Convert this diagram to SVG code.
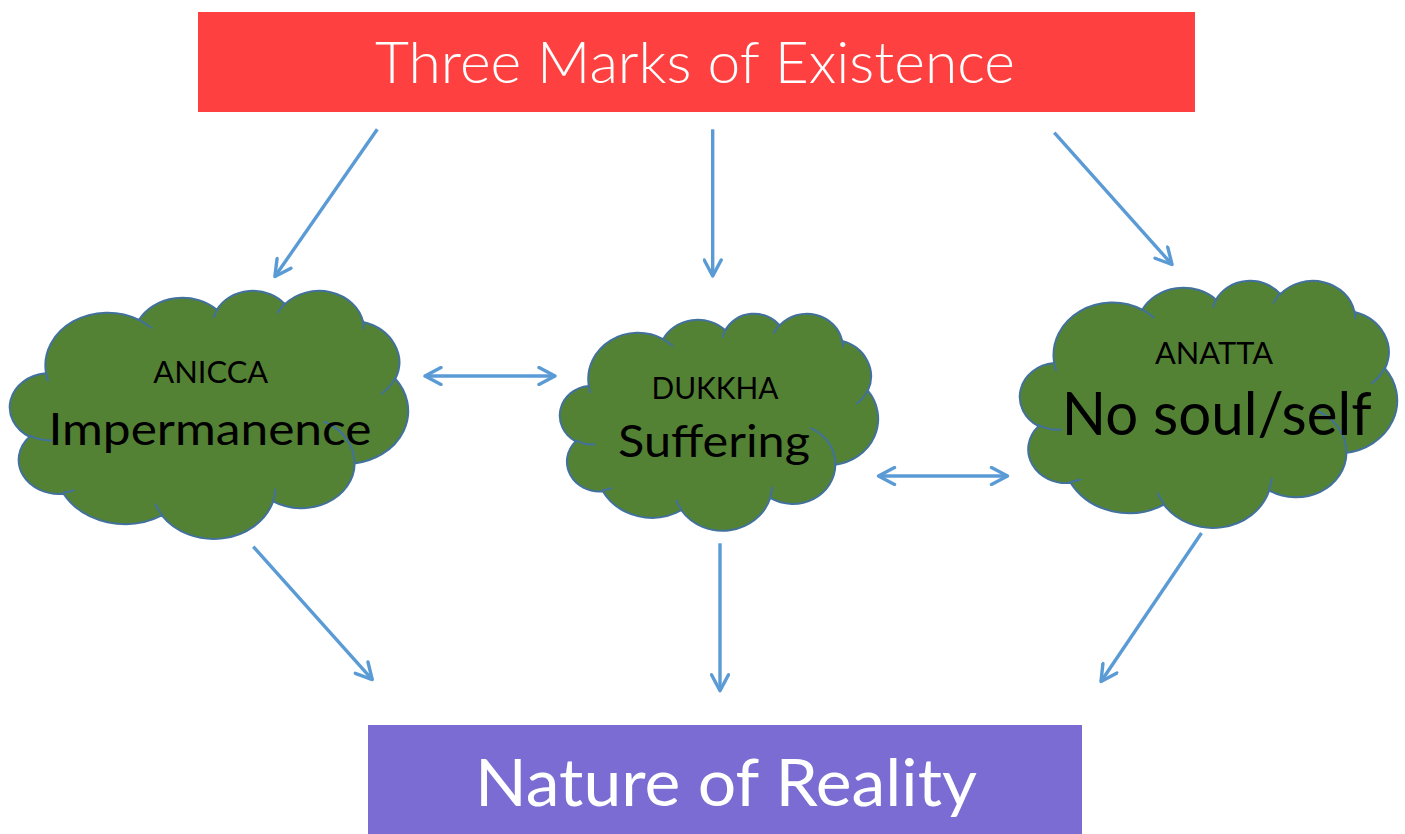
<svg xmlns="http://www.w3.org/2000/svg" width="1405" height="834" viewBox="0 0 1405 834">
<style>
.bg{fill:#ffffff}
.title{fill:#FF4040}
.base{fill:#7B6CD3}
.cloud{fill:#548235;stroke:#41719C;stroke-width:2;stroke-linejoin:round}
.inner{fill:none;stroke:#41719C;stroke-width:2;stroke-linecap:round}
.conn{fill:none;stroke:#5B9BD5;stroke-width:3.4}
.lbl{font-family:Lato,"Open Sans","Liberation Sans",sans-serif;fill:#000000;text-anchor:middle}
.wlbl{font-family:Lato,"Open Sans","Liberation Sans",sans-serif;fill:#ffffff;text-anchor:middle}
</style>
<defs>
<marker id="ah" markerUnits="userSpaceOnUse" viewBox="0 0 30 20" markerWidth="30" markerHeight="20" refX="20" refY="10" orient="auto-start-reverse">
<path d="M4,1.5 L20,10 L4,18.5" fill="none" stroke="#5B9BD5" stroke-width="3.4" stroke-linecap="round" stroke-linejoin="round"/>
</marker>
</defs>
<rect class="bg" x="0" y="0" width="1405" height="834"/>

<g id="three-marks">
<rect class="title" x="198" y="12" width="997" height="100"/>
<text class="wlbl" x="695" y="83" font-size="58" font-weight="300" textLength="640" lengthAdjust="spacingAndGlyphs">Three Marks of Existence</text>
</g>

<g id="anicca">
<g transform="translate(10,290) scale(0.9213,0.5741)">
<path class="cloud" vector-effect="non-scaling-stroke" d="M39,143.7 A67.53,91.9 0 0 1 140.06,52.03 A53.33,72.67 0 0 1 224.59,34.38 A43.65,59.45 0 0 1 298.37,24.87 A48.57,65.95 0 0 1 383.22,55.82 A53.33,72.73 0 0 1 418.23,154.66 A67.75,92.2 0 0 1 374.07,302.07 A57.85,78.67 0 0 1 285.6,368.18 A67.52,92.15 0 0 1 164.84,392.69 A77.2,105.43 0 0 1 58.1,354.8 A43.6,59.18 0 0 1 21.18,255.59 A43.45,59.45 0 0 1 38.68,145.16 Z"/>
<path class="inner" vector-effect="non-scaling-stroke" d="M46.93,261.77 A43.45,59.45 0 0 1 21.6,253.8 M69.28,348.99 A43.6,59.18 0 0 1 58.2,352.8 M164.78,390.9 A67.52,92.15 0 0 1 158.1,373.5 M288.27,347.51 A67.52,92.15 0 0 1 285.6,366.59 M341.29,229.54 A57.85,78.67 0 0 1 373.81,300.9 M417.98,153.54 A53.33,72.73 0 0 1 403.49,180.31 M383.24,54.26 A48.57,65.95 0 0 1 384,66.89 M290.78,39.52 A48.57,65.95 0 0 1 298.2,23.39 M221.41,47.2 A43.65,59.45 0 0 1 225,33.31 M140,51.92 A67.53,91.9 0 0 1 153.03,65.45 M41.27,157.89 A67.53,91.9 0 0 1 39,143.7"/>
</g>
<text class="lbl" x="210.8" y="382.7" font-size="31" textLength="115" lengthAdjust="spacingAndGlyphs">ANICCA</text>
<text class="lbl" x="210" y="445" font-size="44" textLength="323" lengthAdjust="spacingAndGlyphs">Impermanence</text>
</g>

<g id="dukkha">
<g transform="translate(560,313) scale(0.7361,0.5023)">
<path class="cloud" vector-effect="non-scaling-stroke" d="M39,143.7 A67.53,91.9 0 0 1 140.06,52.03 A53.33,72.67 0 0 1 224.59,34.38 A43.65,59.45 0 0 1 298.37,24.87 A48.57,65.95 0 0 1 383.22,55.82 A53.33,72.73 0 0 1 418.23,154.66 A67.75,92.2 0 0 1 374.07,302.07 A57.85,78.67 0 0 1 285.6,368.18 A67.52,92.15 0 0 1 164.84,392.69 A77.2,105.43 0 0 1 58.1,354.8 A43.6,59.18 0 0 1 21.18,255.59 A43.45,59.45 0 0 1 38.68,145.16 Z"/>
<path class="inner" vector-effect="non-scaling-stroke" d="M46.93,261.77 A43.45,59.45 0 0 1 21.6,253.8 M69.28,348.99 A43.6,59.18 0 0 1 58.2,352.8 M164.78,390.9 A67.52,92.15 0 0 1 158.1,373.5 M288.27,347.51 A67.52,92.15 0 0 1 285.6,366.59 M341.29,229.54 A57.85,78.67 0 0 1 373.81,300.9 M417.98,153.54 A53.33,72.73 0 0 1 403.49,180.31 M383.24,54.26 A48.57,65.95 0 0 1 384,66.89 M290.78,39.52 A48.57,65.95 0 0 1 298.2,23.39 M221.41,47.2 A43.65,59.45 0 0 1 225,33.31 M140,51.92 A67.53,91.9 0 0 1 153.03,65.45 M41.27,157.89 A67.53,91.9 0 0 1 39,143.7"/>
</g>
<text class="lbl" x="715" y="399" font-size="31" textLength="127" lengthAdjust="spacingAndGlyphs">DUKKHA</text>
<text class="lbl" x="714" y="457" font-size="45" textLength="192" lengthAdjust="spacingAndGlyphs">Suffering</text>
</g>

<g id="anatta">
<g transform="translate(1020,280) scale(0.8727,0.5718)">
<path class="cloud" vector-effect="non-scaling-stroke" d="M39,143.7 A67.53,91.9 0 0 1 140.06,52.03 A53.33,72.67 0 0 1 224.59,34.38 A43.65,59.45 0 0 1 298.37,24.87 A48.57,65.95 0 0 1 383.22,55.82 A53.33,72.73 0 0 1 418.23,154.66 A67.75,92.2 0 0 1 374.07,302.07 A57.85,78.67 0 0 1 285.6,368.18 A67.52,92.15 0 0 1 164.84,392.69 A77.2,105.43 0 0 1 58.1,354.8 A43.6,59.18 0 0 1 21.18,255.59 A43.45,59.45 0 0 1 38.68,145.16 Z"/>
<path class="inner" vector-effect="non-scaling-stroke" d="M46.93,261.77 A43.45,59.45 0 0 1 21.6,253.8 M69.28,348.99 A43.6,59.18 0 0 1 58.2,352.8 M164.78,390.9 A67.52,92.15 0 0 1 158.1,373.5 M288.27,347.51 A67.52,92.15 0 0 1 285.6,366.59 M341.29,229.54 A57.85,78.67 0 0 1 373.81,300.9 M417.98,153.54 A53.33,72.73 0 0 1 403.49,180.31 M383.24,54.26 A48.57,65.95 0 0 1 384,66.89 M290.78,39.52 A48.57,65.95 0 0 1 298.2,23.39 M221.41,47.2 A43.65,59.45 0 0 1 225,33.31 M140,51.92 A67.53,91.9 0 0 1 153.03,65.45 M41.27,157.89 A67.53,91.9 0 0 1 39,143.7"/>
</g>
<text class="lbl" x="1214" y="364.3" font-size="30" textLength="118" lengthAdjust="spacingAndGlyphs">ANATTA</text>
<text class="lbl" x="1216.7" y="435" font-size="60" textLength="310" lengthAdjust="spacingAndGlyphs">No soul/self</text>
</g>

<g id="nature-of-reality">
<rect class="base" x="368" y="725" width="714" height="109"/>
<text class="wlbl" x="726" y="806" font-size="65" textLength="502" lengthAdjust="spacingAndGlyphs">Nature of Reality</text>
</g>

<g id="connectors">
<line class="conn" x1="377.3" y1="129.3" x2="274.9" y2="276.5" marker-end="url(#ah)"/>
<line class="conn" x1="712.7" y1="129.3" x2="712.7" y2="276" marker-end="url(#ah)"/>
<line class="conn" x1="1054.3" y1="132.7" x2="1172" y2="264.5" marker-end="url(#ah)"/>
<line class="conn" x1="253.3" y1="546.7" x2="372.3" y2="679.6" marker-end="url(#ah)"/>
<line class="conn" x1="720" y1="543.3" x2="720" y2="690.8" marker-end="url(#ah)"/>
<line class="conn" x1="1201.5" y1="533" x2="1101" y2="681.5" marker-end="url(#ah)"/>
<line class="conn" x1="425" y1="376" x2="555" y2="376" marker-start="url(#ah)" marker-end="url(#ah)"/>
<line class="conn" x1="878.5" y1="476" x2="1007.5" y2="476" marker-start="url(#ah)" marker-end="url(#ah)"/>
</g>
</svg>
